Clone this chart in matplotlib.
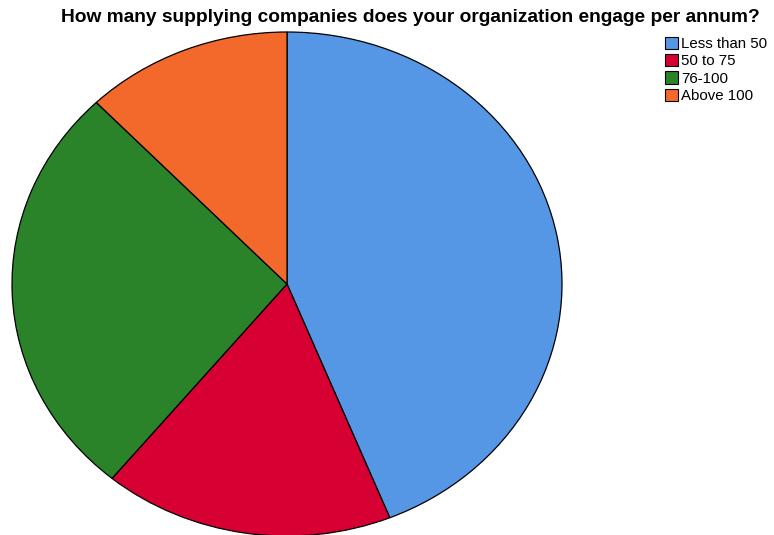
import matplotlib
matplotlib.use("Agg")
import matplotlib.pyplot as plt
from matplotlib.patches import Patch

categories = ["Less than 50", "50 to 75", "76-100", "Above 100"]
counts = [18, 7, 11, 5]
colors = ["#5596E5", "#D60032", "#2A8229", "#F2692B"]
title = "How many supplying companies does your organization engage per annum?"

W, H = 774, 535
fig = plt.figure(figsize=(W / 100, H / 100), dpi=100)
plt.rcParams['font.family'] = ['Liberation Sans', 'DejaVu Sans']

cx, cy = 287, 284
rx, ry = 275, 252
ax = fig.add_axes([(cx - rx) / W, (H - cy - ry) / H, 2 * rx / W, 2 * ry / H])
ax.pie(counts, colors=colors, startangle=90, counterclock=False,
       wedgeprops=dict(edgecolor="black", linewidth=0.9))
ax.set_aspect('auto')
ax.set_xlim(-1, 1)
ax.set_ylim(-1, 1)
ax.axis('off')

fig.text(410 / W, 1 - 17 / H, title, ha='center', va='center',
         fontsize=13.8, fontweight='bold')

handles = [Patch(facecolor=c, edgecolor='black', linewidth=0.8) for c in colors]
leg = fig.legend(handles, categories, loc='upper left',
                 bbox_to_anchor=(654 / W, 1 - 26 / H), frameon=False,
                 fontsize=10.8, handlelength=0.9, handleheight=0.9,
                 handletextpad=0.2, labelspacing=0.2, borderpad=0.2)

fig.savefig("out.png", dpi=100)
